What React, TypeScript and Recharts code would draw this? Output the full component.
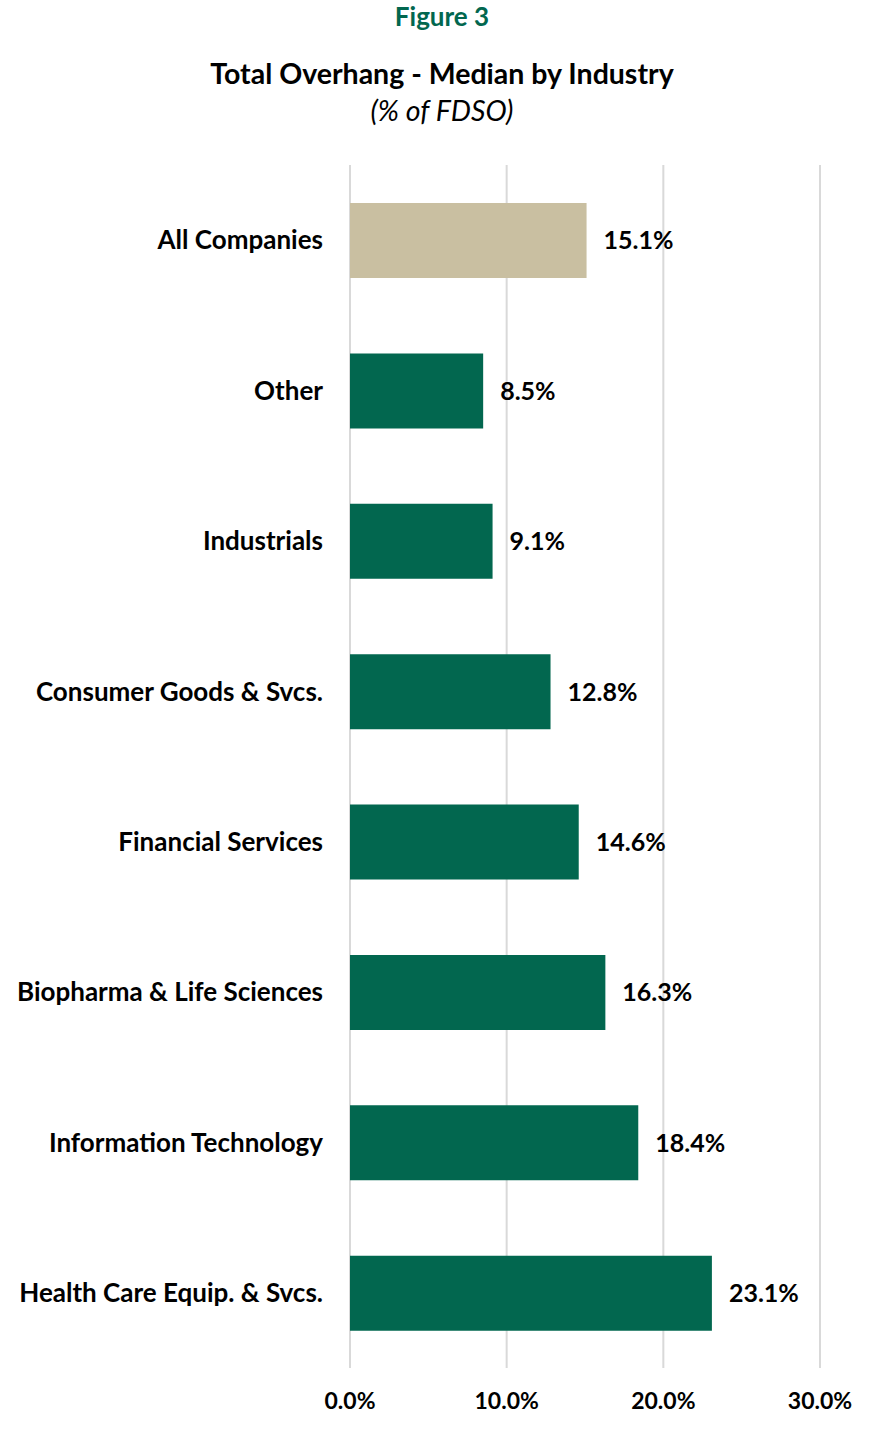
import { BarChart, Bar, XAxis, YAxis, CartesianGrid, Cell, LabelList } from "recharts";

const industries = [
  "All Companies",
  "Other",
  "Industrials",
  "Consumer Goods & Svcs.",
  "Financial Services",
  "Biopharma & Life Sciences",
  "Information Technology",
  "Health Care Equip. & Svcs.",
];
const overhang = [15.1, 8.5, 9.1, 12.8, 14.6, 16.3, 18.4, 23.1];
const xTicks = [0, 10, 20, 30];

const GREEN = "#02674F";
const TAN = "#C9BFA1";
const FONT = "Lato, 'Open Sans', sans-serif";

const data = industries.map((name, i) => ({ name, value: overhang[i] }));

export default function App() {
  return (
    <div style={{ position: "absolute", left: 0, top: 0, width: 893, height: 1435, background: "#fff", fontFamily: FONT }}>
      <div style={{ position: "absolute", top: 3, width: 884, textAlign: "center", color: GREEN, fontWeight: 700, fontSize: 26, lineHeight: "26px" }}>
        Figure 3
      </div>
      <div style={{ position: "absolute", top: 56, width: 884, textAlign: "center", color: "#000", fontWeight: 700, fontSize: 28.5 }}>
        Total Overhang - Median by Industry
      </div>
      <div style={{ position: "absolute", top: 93, width: 884, textAlign: "center", color: "#000", fontStyle: "italic", fontSize: 28.5 }}>
        (% of FDSO)
      </div>
      <div style={{ position: "absolute", left: 0, top: 0 }}>
        <BarChart
          width={893}
          height={1435}
          data={data}
          layout="vertical"
          margin={{ top: 165, right: 73, left: 0, bottom: 27 }}
          barCategoryGap="25%"
        >
          <CartesianGrid horizontal={false} stroke="#D9D9D9" strokeWidth={2} />
          <XAxis
            type="number"
            domain={[0, 30]}
            ticks={xTicks}
            height={40}
            axisLine={false}
            tickLine={false}
            tickMargin={19}
            tickFormatter={(v: number) => `${v.toFixed(1)}%`}
            tick={{ fill: "#000", fontSize: 23, fontWeight: 700, fontFamily: FONT }}
          />
          <YAxis
            type="category"
            dataKey="name"
            width={350}
            axisLine={false}
            tickLine={false}
            tickMargin={21}
            tick={{ fill: "#000", fontSize: 26, fontWeight: 700, fontFamily: FONT }}
          />
          <Bar dataKey="value" barSize={75} isAnimationActive={false}>
            {data.map((d, i) => (
              <Cell key={d.name} fill={i === 0 ? TAN : GREEN} />
            ))}
            <LabelList
              dataKey="value"
              position="right"
              offset={17}
              formatter={(v: number) => `${v.toFixed(1)}%`}
              style={{ fill: "#000", fontSize: 25, fontWeight: 700, fontFamily: FONT }}
            />
          </Bar>
        </BarChart>
      </div>
    </div>
  );
}
